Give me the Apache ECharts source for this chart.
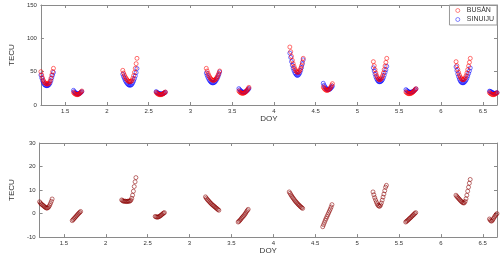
<!DOCTYPE html>
<html>
<head>
<meta charset="utf-8">
<script src="https://cdn.jsdelivr.net/npm/echarts@6.0.0/dist/echarts.min.js"></script>
<style>
  html, body { margin: 0; padding: 0; background: #fff; }
  #chart { width: 502px; height: 256px; }
</style>
</head>
<body>
<div id="chart"></div>
<script>
// day of year for each sample, one line per satellite pass
const doy = [
  1.21, 1.22, 1.23, 1.24, 1.25, 1.26, 1.27, 1.28, 1.29, 1.30, 1.31, 1.32, 1.33, 1.34, 1.35, 1.36,
  1.60, 1.61, 1.62, 1.63, 1.64, 1.65, 1.66, 1.67, 1.68, 1.69, 1.70,
  2.19, 2.20, 2.21, 2.22, 2.23, 2.24, 2.25, 2.26, 2.27, 2.28, 2.29, 2.30, 2.31, 2.32, 2.33, 2.34, 2.35, 2.36,
  2.59, 2.60, 2.61, 2.62, 2.63, 2.64, 2.65, 2.66, 2.67, 2.68, 2.69, 2.70,
  3.19, 3.20, 3.21, 3.22, 3.23, 3.24, 3.25, 3.26, 3.27, 3.28, 3.29, 3.30, 3.31, 3.32, 3.33, 3.34, 3.35,
  3.58, 3.59, 3.60, 3.61, 3.62, 3.63, 3.64, 3.65, 3.66, 3.67, 3.68, 3.69, 3.70,
  4.19, 4.20, 4.21, 4.22, 4.23, 4.24, 4.25, 4.26, 4.27, 4.28, 4.29, 4.30, 4.31, 4.32, 4.33, 4.34, 4.35,
  4.59, 4.60, 4.61, 4.62, 4.63, 4.64, 4.65, 4.66, 4.67, 4.68, 4.69, 4.70,
  5.19, 5.20, 5.21, 5.22, 5.23, 5.24, 5.25, 5.26, 5.27, 5.28, 5.29, 5.30, 5.31, 5.32, 5.33, 5.34, 5.35,
  5.58, 5.59, 5.60, 5.61, 5.62, 5.63, 5.64, 5.65, 5.66, 5.67, 5.68, 5.69, 5.70,
  6.18, 6.19, 6.20, 6.21, 6.22, 6.23, 6.24, 6.25, 6.26, 6.27, 6.28, 6.29, 6.30, 6.31, 6.32, 6.33, 6.34, 6.35,
  6.58, 6.59, 6.60, 6.61, 6.62, 6.63, 6.64, 6.65, 6.66, 6.67
]

const busan = [
  50, 45, 40.5, 37, 34.5, 33, 32, 31.5, 31.5, 32, 33.5, 36, 40, 45, 50, 55,
  19, 17.5, 16.5, 16, 15.5, 15.5, 16, 17, 18, 19.5, 21,
  52, 48, 45, 42, 40, 38, 36.5, 35.5, 35, 35, 35.5, 37, 40, 44, 49, 55, 62, 70,
  19, 17.5, 16.5, 16, 15.5, 15.5, 15.5, 16, 16.5, 17.5, 18.5, 19.5,
  55, 51, 47.5, 44.5, 42, 40, 38.5, 37.5, 37, 37, 37.5, 38.5, 40, 42, 44.5, 47.5, 51,
  21, 19.5, 18.5, 18, 17.5, 17.5, 18, 18.5, 19.5, 21, 22.5, 24.5, 26.5,
  87, 80, 73, 67, 62, 58, 54.5, 52, 50, 49, 49, 50, 52, 55, 59, 64, 70,
  27, 25, 23.5, 22.5, 22, 22, 22.5, 23.5, 25, 27, 29.5, 32,
  65, 59, 53, 48, 44, 41, 39, 38, 38, 39, 41, 44, 48, 53, 58.5, 64, 70,
  19.5, 18.5, 17.5, 17, 17, 17, 17.5, 18, 19, 20, 21.5, 23, 24.5,
  65, 59, 53.5, 49, 45, 42, 40, 38.5, 38, 38, 39, 41, 44, 48, 53, 58.5, 64, 70,
  18.5, 17.5, 16.5, 16, 15.5, 15.5, 16, 16.5, 17.5, 18.5
]

const sinuiju = [
  45.0, 40.5, 36.4, 33.2, 31.0, 29.8, 29.1, 28.9, 29.1, 29.7, 31.0, 33.1, 36.5, 40.7, 44.8, 48.8,
  22.0, 20.1, 18.7, 17.8, 16.9, 16.5, 16.6, 17.2, 17.8, 19.0, 20.1,
  46.2, 42.5, 39.7, 36.8, 34.7, 32.8, 31.4, 30.3, 29.7, 29.8, 30.1, 31.3, 33.5, 36.2, 39.5, 43.5, 48.5, 54.7,
  20.2, 18.9, 18.0, 17.5, 16.9, 16.7, 16.5, 16.7, 16.9, 17.6, 18.3, 19.1,
  47.9, 44.4, 41.4, 38.8, 36.7, 35.1, 34.0, 33.3, 33.2, 33.5, 34.3, 35.6, 37.4, 39.7, 42.5, 45.8, 49.6,
  24.6, 22.8, 21.4, 20.5, 19.5, 19.1, 19.2, 19.3, 19.8, 20.8, 21.7, 23.2, 24.7,
  77.8, 71.4, 65.0, 59.6, 55.1, 51.6, 48.6, 46.6, 45.0, 44.4, 44.8, 46.2, 48.5, 51.9, 56.2, 61.5, 67.8,
  32.6, 29.7, 27.3, 25.4, 24.1, 23.3, 23.0, 23.2, 23.9, 25.1, 26.7, 28.2,
  55.8, 51.0, 46.2, 42.2, 39.1, 36.9, 35.5, 34.8, 34.9, 35.4, 36.5, 38.3, 41.0, 44.7, 48.8, 52.8, 58.0,
  23.1, 21.8, 20.5, 19.7, 19.3, 19.0, 19.2, 19.3, 20.0, 20.6, 21.8, 22.9, 24.1,
  57.2, 51.7, 46.6, 42.5, 38.9, 36.3, 34.7, 33.5, 33.3, 33.5, 34.4, 35.8, 37.7, 40.2, 43.5, 47.3, 51.1, 55.5,
  20.8, 20.3, 19.7, 19.1, 18.1, 17.5, 17.4, 17.4, 17.9, 18.5
]

// BUSAN - SINUIJU
const diff = [
  5.0, 4.5, 4.1, 3.8, 3.5, 3.2, 2.9, 2.6, 2.4, 2.3, 2.5, 2.9, 3.5, 4.3, 5.2, 6.2,
  -3.0, -2.6, -2.2, -1.8, -1.4, -1.0, -0.6, -0.2, 0.2, 0.5, 0.9,
  5.8, 5.5, 5.3, 5.2, 5.3, 5.2, 5.1, 5.2, 5.3, 5.2, 5.4, 5.7, 6.5, 7.8, 9.5, 11.5, 13.5, 15.3,
  -1.2, -1.4, -1.5, -1.5, -1.4, -1.2, -1.0, -0.7, -0.4, -0.1, 0.2, 0.4,
  7.1, 6.6, 6.1, 5.7, 5.3, 4.9, 4.5, 4.2, 3.8, 3.5, 3.2, 2.9, 2.6, 2.3, 2.0, 1.7, 1.4,
  -3.6, -3.3, -2.9, -2.5, -2.0, -1.6, -1.2, -0.8, -0.3, 0.2, 0.8, 1.3, 1.8,
  9.2, 8.6, 8.0, 7.4, 6.9, 6.4, 5.9, 5.4, 5.0, 4.6, 4.2, 3.8, 3.5, 3.1, 2.8, 2.5, 2.2,
  -5.6, -4.7, -3.8, -2.9, -2.1, -1.3, -0.5, 0.3, 1.1, 1.9, 2.8, 3.8,
  9.2, 8.0, 6.8, 5.8, 4.9, 4.1, 3.5, 3.2, 3.1, 3.6, 4.5, 5.7, 7.0, 8.3, 9.7, 11.2, 12.0,
  -3.6, -3.3, -3.0, -2.7, -2.3, -2.0, -1.7, -1.3, -1.0, -0.6, -0.3, 0.1, 0.4,
  7.8, 7.3, 6.9, 6.5, 6.1, 5.7, 5.3, 5.0, 4.7, 4.5, 4.6, 5.2, 6.3, 7.8, 9.5, 11.2, 12.9, 14.5,
  -2.3, -2.8, -3.2, -3.1, -2.6, -2.0, -1.4, -0.9, -0.4, 0.0
]

const xTicks = [1.5, 2, 2.5, 3, 3.5, 4, 4.5, 5, 5.5, 6, 6.5]

const axisColor = '#8a8a8a'
const textColor = '#333'
const font = 'Liberation Sans'

const pts = arr => doy.map((d, i) => [d, arr[i]])

function xAxisDef(grid, pos) {
  const main = pos === 'bottom'
  return {
    type: 'value',
    gridIndex: grid,
    position: pos,
    min: 1.21,
    max: 6.67,
    name: main ? 'DOY' : '',
    nameLocation: 'middle',
    nameGap: 9,
    nameTextStyle: { color: textColor, fontSize: 8, fontFamily: font },
    axisLine: { show: true, onZero: false, lineStyle: { color: axisColor, width: 1 } },
    axisTick: { show: true, inside: true, length: 3, customValues: xTicks, lineStyle: { color: axisColor } },
    axisLabel: { show: main, customValues: xTicks, margin: 3, color: textColor, fontSize: 6, fontFamily: font },
    splitLine: { show: false }
  }
}

function yAxisDef(grid, pos, min, max, step) {
  const main = pos === 'left'
  return {
    type: 'value',
    gridIndex: grid,
    position: pos,
    min: min,
    max: max,
    interval: step,
    name: main ? 'TECU' : '',
    nameLocation: 'middle',
    nameGap: 18,
    nameTextStyle: { color: textColor, fontSize: 8, fontFamily: font },
    axisLine: { show: true, onZero: false, lineStyle: { color: axisColor, width: 1 } },
    axisTick: { show: true, inside: true, length: 3, lineStyle: { color: axisColor } },
    axisLabel: { show: main, margin: 4, color: textColor, fontSize: 6, fontFamily: font },
    splitLine: { show: false }
  }
}

function ring(color) {
  return { color: 'rgba(0,0,0,0)', borderColor: color, borderWidth: 0.7 }
}

const chart = echarts.init(document.getElementById('chart'))
chart.setOption({
  animation: false,
  backgroundColor: '#fff',
  grid: [
    { left: 26, right: 5, top: 5, height: 100 },
    { left: 26, right: 5, top: 143, height: 99 }
  ],
  legend: {
    orient: 'vertical',
    right: 5,
    top: 5,
    data: ['BUSAN', 'SINUIJU'],
    borderColor: '#999',
    borderWidth: 1,
    borderRadius: 0,
    padding: [2, 3, 2, 6],
    itemGap: 2,
    itemWidth: 4,
    itemHeight: 4,
    icon: 'circle',
    itemStyle: { borderWidth: 0.6 },
    textStyle: { color: textColor, fontSize: 7, fontFamily: font, padding: [0, 0, 0, 2] }
  },
  xAxis: [
    xAxisDef(0, 'bottom'),
    xAxisDef(0, 'top'),
    xAxisDef(1, 'bottom'),
    xAxisDef(1, 'top')
  ],
  yAxis: [
    yAxisDef(0, 'left', 0, 150, 50),
    yAxisDef(0, 'right', 0, 150, 50),
    yAxisDef(1, 'left', -10, 30, 10),
    yAxisDef(1, 'right', -10, 30, 10)
  ],
  series: [
    {
      name: 'SINUIJU',
      type: 'scatter',
      xAxisIndex: 0,
      yAxisIndex: 0,
      symbol: 'circle',
      symbolSize: 4,
      itemStyle: ring('#0000ff'),
      emphasis: { disabled: true },
      data: pts(sinuiju)
    },
    {
      name: 'BUSAN',
      type: 'scatter',
      xAxisIndex: 0,
      yAxisIndex: 0,
      symbol: 'circle',
      symbolSize: 4,
      itemStyle: ring('#ff0000'),
      emphasis: { disabled: true },
      data: pts(busan)
    },
    {
      name: 'difference',
      type: 'scatter',
      xAxisIndex: 2,
      yAxisIndex: 2,
      symbol: 'circle',
      symbolSize: 4,
      itemStyle: ring('#8b0000'),
      emphasis: { disabled: true },
      data: pts(diff)
    }
  ]
})
</script>
</body>
</html>
